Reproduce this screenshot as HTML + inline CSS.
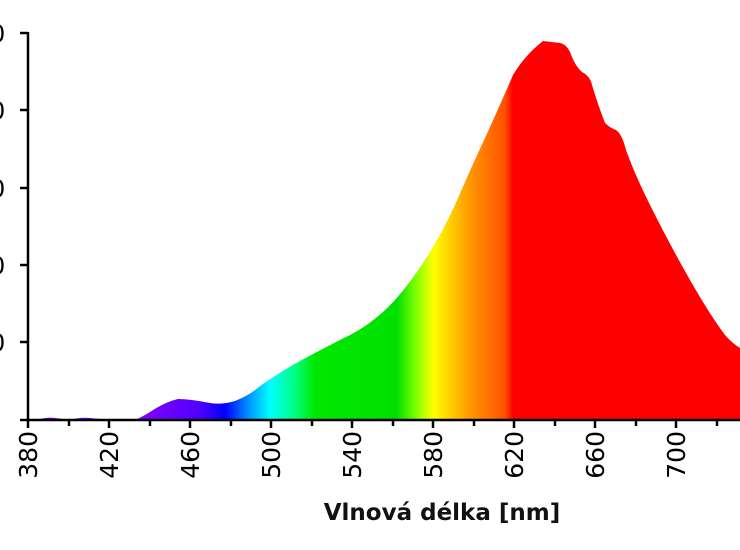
<!DOCTYPE html>
<html><head><meta charset="utf-8"><style>
html,body{margin:0;padding:0;background:#fff;}
svg{display:block;}
text{font-family:"DejaVu Sans","Liberation Sans",sans-serif;}
</style></head><body>
<svg width="740" height="550" viewBox="0 0 740 550">
<defs>
<linearGradient id="g" gradientUnits="userSpaceOnUse" x1="28" y1="0" x2="740" y2="0">
<stop offset="0" stop-color="#8000ff"/>
<stop offset="0.172" stop-color="#7a00ff"/>
<stop offset="0.24" stop-color="#5000ff"/>
<stop offset="0.277" stop-color="#0000ff"/>
<stop offset="0.305" stop-color="#0080ff"/>
<stop offset="0.34" stop-color="#00ffff"/>
<stop offset="0.375" stop-color="#00ff80"/>
<stop offset="0.403" stop-color="#00e800"/>
<stop offset="0.518" stop-color="#00e000"/>
<stop offset="0.545" stop-color="#80ff00"/>
<stop offset="0.569" stop-color="#ffff00"/>
<stop offset="0.62" stop-color="#ff9900"/>
<stop offset="0.67" stop-color="#ff5000"/>
<stop offset="0.681" stop-color="#ff0000"/>
<stop offset="1" stop-color="#ff0000"/>
</linearGradient>
</defs>
<path fill="url(#g)" d="M28,420 L40,419 Q48,417 55,418 L70,420 Q80,417 90,418 L110,420 L135,420 Q142,417 150,412 Q165,402 178,399 Q190,399 210,403 Q222,405 235,401 Q250,395 260,386 Q280,372 300,361 Q320,350 350,335 Q375,322 395,300 Q410,283 425,260 Q440,237 455,205 Q470,170 485,138 Q500,105 513,75 Q525,55 543,41 Q552,42 560,43 Q566,44 570,52 Q575,66 582,72 Q590,76 592,85 Q598,105 605,123 Q610,128 616,130 Q622,134 626,150 Q635,175 650,205 Q670,245 690,280 Q710,315 725,335 Q732,343 740,348 L740,420 Z"/>
<g stroke="#000" stroke-width="2.5" fill="none">
<line x1="28" y1="32" x2="28" y2="421"/>
<line x1="20" y1="420" x2="740" y2="420"/>
<line x1="20" y1="33" x2="28" y2="33"/>
<line x1="20" y1="110" x2="28" y2="110"/>
<line x1="20" y1="188" x2="28" y2="188"/>
<line x1="20" y1="265" x2="28" y2="265"/>
<line x1="20" y1="342" x2="28" y2="342"/>
<line x1="28" y1="420" x2="28" y2="428"/>
<line x1="69" y1="420" x2="69" y2="426"/>
<line x1="109" y1="420" x2="109" y2="428"/>
<line x1="150" y1="420" x2="150" y2="426"/>
<line x1="190" y1="420" x2="190" y2="428"/>
<line x1="231" y1="420" x2="231" y2="426"/>
<line x1="271" y1="420" x2="271" y2="428"/>
<line x1="312" y1="420" x2="312" y2="426"/>
<line x1="352" y1="420" x2="352" y2="428"/>
<line x1="393" y1="420" x2="393" y2="426"/>
<line x1="433" y1="420" x2="433" y2="428"/>
<line x1="474" y1="420" x2="474" y2="426"/>
<line x1="514" y1="420" x2="514" y2="428"/>
<line x1="555" y1="420" x2="555" y2="426"/>
<line x1="595" y1="420" x2="595" y2="428"/>
<line x1="636" y1="420" x2="636" y2="426"/>
<line x1="676" y1="420" x2="676" y2="428"/>
<line x1="717" y1="420" x2="717" y2="426"/>
</g>
<g font-size="24" fill="#000">
<text x="-10" y="42">0</text>
<text x="-10" y="119">0</text>
<text x="-10" y="197">0</text>
<text x="-10" y="274">0</text>
<text x="-10" y="351">0</text>
</g>
<g font-size="25" fill="#000" text-anchor="end">
<text transform="translate(37,431) rotate(-90)">380</text>
<text transform="translate(118,431) rotate(-90)">420</text>
<text transform="translate(199,431) rotate(-90)">460</text>
<text transform="translate(280,431) rotate(-90)">500</text>
<text transform="translate(361,431) rotate(-90)">540</text>
<text transform="translate(442,431) rotate(-90)">580</text>
<text transform="translate(523,431) rotate(-90)">620</text>
<text transform="translate(604,431) rotate(-90)">660</text>
<text transform="translate(685,431) rotate(-90)">700</text>
</g>
<text x="442" y="520" font-size="23" font-weight="bold" text-anchor="middle" fill="#111">Vlnová délka [nm]</text>
</svg>
</body></html>
